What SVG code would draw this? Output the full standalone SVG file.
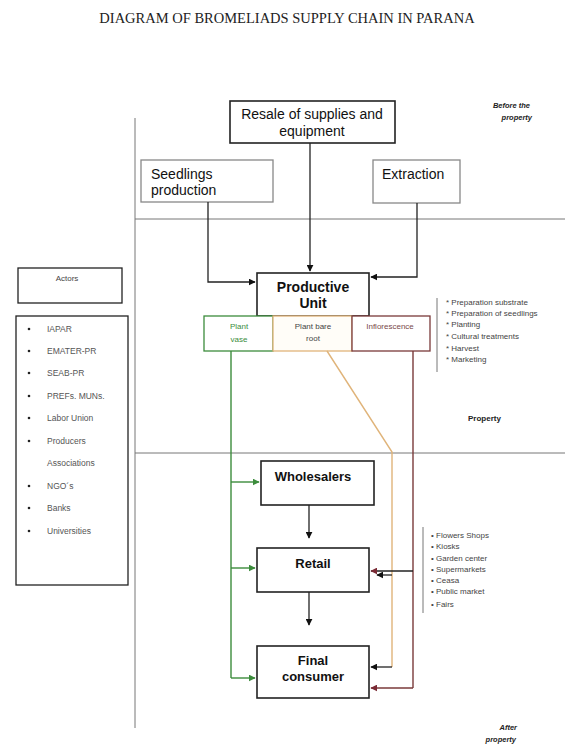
<svg xmlns="http://www.w3.org/2000/svg" width="565" height="744" viewBox="0 0 565 744">
<style>
.t{font-family:"Liberation Sans",Arial,sans-serif;}
.box{fill:#fff;stroke:#222;stroke-width:1.6;}
.gbox{fill:#fff;stroke:#888;stroke-width:1.3;}
.big{font-size:14px;fill:#111;}
.bold{font-size:14px;font-weight:bold;fill:#111;}
.sm{font-size:8px;fill:#444;}
.lst{font-size:8.5px;fill:#555;}
.note{font-size:7.5px;font-weight:bold;font-style:italic;fill:#222;}
.ln{stroke:#222;stroke-width:1.3;fill:none;}
.gl{stroke:#777;stroke-width:1;fill:none;}
</style>
<defs>
<marker id="ab" viewBox="0 0 10 10" refX="9" refY="5" markerWidth="7" markerHeight="7" markerUnits="userSpaceOnUse" orient="auto"><path d="M0,0 L10,5 L0,10 z" fill="#111"/></marker>
<marker id="ag" viewBox="0 0 10 10" refX="9" refY="5" markerWidth="7" markerHeight="7" markerUnits="userSpaceOnUse" orient="auto"><path d="M0,0 L10,5 L0,10 z" fill="#3c8c3c"/></marker>
<marker id="ar" viewBox="0 0 10 10" refX="9" refY="5" markerWidth="7" markerHeight="7" markerUnits="userSpaceOnUse" orient="auto"><path d="M0,0 L10,5 L0,10 z" fill="#7a2a35"/></marker>
</defs>
<rect width="565" height="744" fill="#fff"/>
<text x="287" y="23" text-anchor="middle" font-family="Liberation Serif,Times New Roman,serif" font-size="14.5" fill="#222">DIAGRAM OF BROMELIADS SUPPLY CHAIN IN PARANA</text>

<g id="frame">
<line class="gl" x1="135" y1="118" x2="135" y2="728"/>
<line class="gl" x1="135" y1="219" x2="565" y2="219"/>
<line class="gl" x1="135" y1="453" x2="565" y2="453"/>
<line class="gl" x1="437" y1="298" x2="437" y2="372"/>
<line class="gl" x1="423" y1="527" x2="423" y2="613"/>
</g>

<g id="labels">
<text class="t note" x="530" y="108" text-anchor="end">Before the</text>
<text class="t note" x="532" y="120" text-anchor="end">property</text>
<text class="t" x="468" y="421" font-size="8" font-weight="bold" fill="#222">Property</text>
<text class="t note" x="517" y="730" text-anchor="end">After</text>
<text class="t note" x="516" y="742" text-anchor="end">property</text>
</g>

<g id="resale">
<rect class="box" x="230" y="101" width="165" height="42"/>
<text class="t big" x="312" y="119" text-anchor="middle">Resale of supplies and</text>
<text class="t big" x="312" y="136" text-anchor="middle">equipment</text>
</g>
<g id="seedlings">
<rect class="gbox" x="141" y="160" width="132" height="42"/>
<text class="t big" x="151" y="179">Seedlings</text>
<text class="t big" x="151" y="195">production</text>
</g>
<g id="extraction">
<rect class="gbox" x="373" y="160" width="87" height="43"/>
<text class="t big" x="382" y="179">Extraction</text>
</g>

<g id="productive-unit">
<rect class="box" x="257" y="273" width="112" height="43"/>
<text class="t bold" x="313" y="292" text-anchor="middle">Productive</text>
<text class="t bold" x="313" y="308" text-anchor="middle">Unit</text>
</g>
<g id="plant-vase">
<rect x="204" y="316" width="69" height="35" fill="#fff" stroke="#3c8c3c" stroke-width="1.3"/>
<text class="t" x="239" y="329" text-anchor="middle" font-size="8" fill="#3c8c3c">Plant</text>
<text class="t" x="239" y="342" text-anchor="middle" font-size="8" fill="#3c8c3c">vase</text>
</g>
<g id="plant-bare-root">
<rect x="273" y="316" width="79" height="35" fill="#fffdf8" stroke="#e0b47a" stroke-width="1.3"/>
<text class="t sm" x="313" y="329" text-anchor="middle">Plant bare</text>
<text class="t sm" x="313" y="341" text-anchor="middle">root</text>
</g>
<g id="inflorescence">
<rect x="352" y="316" width="78" height="35" fill="#fff" stroke="#7a3a3a" stroke-width="1.3"/>
<text class="t" x="390" y="329" text-anchor="middle" font-size="8" fill="#7a4a4a">Inflorescence</text>
</g>

<g id="activities">
<text class="t sm" x="446" y="305">* Preparation substrate</text>
<text class="t sm" x="446" y="316">* Preparation of seedlings</text>
<text class="t sm" x="446" y="327">* Planting</text>
<text class="t sm" x="446" y="339">* Cultural treatments</text>
<text class="t sm" x="446" y="351">* Harvest</text>
<text class="t sm" x="446" y="362">* Marketing</text>
</g>

<g id="actors">
<rect x="18" y="268" width="104" height="35" fill="#fff" stroke="#222" stroke-width="1.3"/>
<text class="t sm" x="67" y="281" text-anchor="middle">Actors</text>
</g>
<g id="actors-list">
<rect x="16" y="316" width="112" height="269" fill="#fff" stroke="#222" stroke-width="1.3"/>
<g fill="#222">
<circle cx="29" cy="329" r="1.3"/><circle cx="29" cy="351" r="1.3"/><circle cx="29" cy="373" r="1.3"/><circle cx="29" cy="396" r="1.3"/><circle cx="29" cy="418" r="1.3"/><circle cx="29" cy="441" r="1.3"/><circle cx="29" cy="486" r="1.3"/><circle cx="29" cy="508" r="1.3"/><circle cx="29" cy="531" r="1.3"/>
</g>
<text class="t lst" x="47" y="332">IAPAR</text>
<text class="t lst" x="47" y="354">EMATER-PR</text>
<text class="t lst" x="47" y="376">SEAB-PR</text>
<text class="t lst" x="47" y="399">PREFs. MUNs.</text>
<text class="t lst" x="47" y="421">Labor Union</text>
<text class="t lst" x="47" y="444">Producers</text>
<text class="t lst" x="47" y="466">Associations</text>
<text class="t lst" x="47" y="489">NGO´s</text>
<text class="t lst" x="47" y="511">Banks</text>
<text class="t lst" x="47" y="534">Universities</text>
</g>

<g id="wholesalers">
<rect class="box" x="261" y="461" width="113" height="44"/>
<text class="t" x="313" y="481" text-anchor="middle" font-size="13" font-weight="bold" fill="#111">Wholesalers</text>
</g>
<g id="retail">
<rect class="box" x="257" y="548" width="112" height="44"/>
<text class="t" x="313" y="568" text-anchor="middle" font-size="13" font-weight="bold" fill="#111">Retail</text>
</g>
<g id="final-consumer">
<rect class="box" x="257" y="646" width="112" height="52"/>
<text class="t" x="313" y="665" text-anchor="middle" font-size="13" font-weight="bold" fill="#111">Final</text>
<text class="t" x="313" y="681" text-anchor="middle" font-size="13" font-weight="bold" fill="#111">consumer</text>
</g>

<g id="outlets">
<text class="t sm" x="431" y="538">• Flowers Shops</text>
<text class="t sm" x="431" y="549">• Kiosks</text>
<text class="t sm" x="431" y="561">• Garden center</text>
<text class="t sm" x="431" y="572">• Supermarkets</text>
<text class="t sm" x="431" y="583">• Ceasa</text>
<text class="t sm" x="431" y="594">• Public market</text>
<text class="t sm" x="431" y="607">• Fairs</text>
</g>

<g id="connectors">
<path class="ln" d="M208,202 V282 H255" marker-end="url(#ab)"/>
<path class="ln" d="M310,143 V271" marker-end="url(#ab)"/>
<path class="ln" d="M417,203 V277 H371" marker-end="url(#ab)"/>
<path class="ln" d="M309,505 V538" marker-end="url(#ab)"/>
<path class="ln" d="M309,592 V625" marker-end="url(#ab)"/>
<g stroke="#3c8c3c" stroke-width="1.4" fill="none">
<path d="M231,351 V678"/>
<path d="M231,482 H259" marker-end="url(#ag)"/>
<path d="M231,568 H255" marker-end="url(#ag)"/>
<path d="M231,678 H255" marker-end="url(#ag)"/>
</g>
<path d="M327,351 L392,452 V667" stroke="#e0b47a" stroke-width="1.4" fill="none"/>
<path d="M392,575 H377" stroke="#222" stroke-width="1.3" fill="none" marker-end="url(#ab)"/>
<path d="M392,667 H371" stroke="#222" stroke-width="1.3" fill="none" marker-end="url(#ab)"/>
<path d="M413,351 V688" stroke="#7a3a3a" stroke-width="1.4" fill="none"/>
<path d="M413,571 H371" stroke="#222" stroke-width="1.3" fill="none" marker-end="url(#ar)"/>
<path d="M413,688 H371" stroke="#7a3a3a" stroke-width="1.3" fill="none" marker-end="url(#ar)"/>
</g>
</svg>
